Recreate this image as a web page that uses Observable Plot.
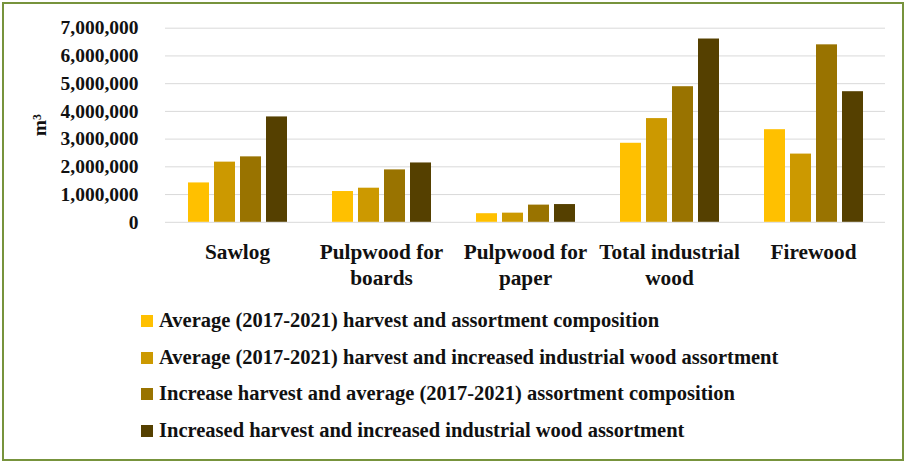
<!DOCTYPE html>
<html>
<head>
<meta charset="utf-8">
<script src="https://cdn.jsdelivr.net/npm/d3@7"></script>
<script src="https://cdn.jsdelivr.net/npm/@observablehq/plot@0.6"></script>
<style>
  html, body { margin: 0; padding: 0; background: #fff; }
  body { width: 906px; height: 463px; position: relative; overflow: hidden; }
  #frame { position: absolute; left: 2px; top: 2px; width: 898px; height: 455px; border: 2px solid #77933c; box-sizing: content-box; }
  #chart { position: absolute; left: 0; top: 0; }
  #legend { position: absolute; left: 141px; top: 302px; font-family: "Liberation Serif", serif; font-weight: bold; font-size: 20.5px; color: #111; }
  .row { line-height: 36.7px; height: 36.7px; white-space: nowrap; }
  .sw { display: inline-block; width: 12px; height: 12px; margin-right: 6px; vertical-align: baseline; }
</style>
</head>
<body>
<div id="frame"></div>
<div id="chart"></div>
<div id="legend"></div>
<script>
const categories = ["Sawlog", "Pulpwood for boards", "Pulpwood for paper", "Total industrial wood", "Firewood"];
const categoryLines = ["Sawlog", "Pulpwood for\nboards", "Pulpwood for\npaper", "Total industrial\nwood", "Firewood"];
const series = [
  "Average (2017-2021) harvest and assortment composition",
  "Average (2017-2021) harvest and increased industrial wood assortment",
  "Increase harvest and average (2017-2021) assortment composition",
  "Increased harvest and increased industrial wood assortment"
];
const colors = ["#ffc000", "#cc9900", "#997300", "#554000"];
const s1 = [1420000, 1110000, 310000, 2850000, 3340000];
const s2 = [2170000, 1230000, 330000, 3740000, 2460000];
const s3 = [2360000, 1890000, 620000, 4890000, 6400000];
const s4 = [3800000, 2140000, 640000, 6610000, 4710000];
const yTicks = [0, 1000000, 2000000, 3000000, 4000000, 5000000, 6000000, 7000000];

const seriesValues = [s1, s2, s3, s4];
const data = [];
categories.forEach((c, i) => {
  series.forEach((s, j) => data.push({category: c, series: s, value: seriesValues[j][i]}));
});
const lineMap = new Map(categories.map((c, i) => [c, categoryLines[i]]));

const chart = Plot.plot({
  width: 906,
  height: 300,
  marginLeft: 165,
  marginRight: 21,
  marginTop: 27.7,
  marginBottom: 78.2,
  style: {fontFamily: "'Liberation Serif', serif", fontSize: "19.5px", fontWeight: "bold", color: "#111", background: "transparent", overflow: "visible"},
  fx: {domain: categories, padding: 0, axis: null, label: null},
  x: {domain: series, paddingInner: 0.204, paddingOuter: 0.871, axis: null},
  y: {domain: [0, 7000000], ticks: yTicks, tickSize: 0, tickPadding: 27, tickFormat: d3.format(","), label: "m³", labelArrow: "none", labelAnchor: "center", labelOffset: 133},
  color: {domain: series, range: colors},
  marks: [
    Plot.ruleY(yTicks, {stroke: "#d9d9d9", strokeWidth: 1}),
    Plot.barY(data, {fx: "category", x: "series", y: "value", fill: "series"}),
    Plot.text(categories, {fx: d => d, text: d => lineMap.get(d), frameAnchor: "bottom", lineAnchor: "top", dy: 17.5, lineHeight: 1.24, fontSize: 21.3, fill: "#111"})
  ]
});
document.getElementById("chart").appendChild(chart);

const legend = document.getElementById("legend");
series.forEach((s, j) => {
  const row = document.createElement("div");
  row.className = "row";
  const sw = document.createElement("span");
  sw.className = "sw";
  sw.style.background = colors[j];
  row.appendChild(sw);
  row.appendChild(document.createTextNode(s));
  legend.appendChild(row);
});
</script>
</body>
</html>
